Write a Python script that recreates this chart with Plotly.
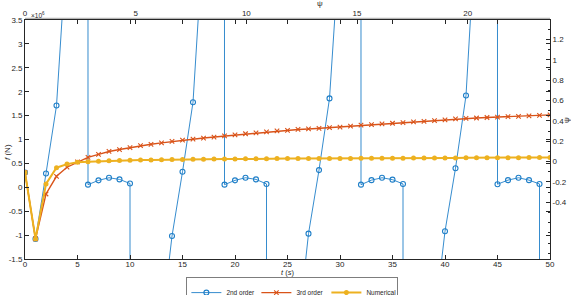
import plotly.graph_objects as go

t = list(range(0, 51))

second_order = [0.31, -1.08, 0.29, 1.71, 5.15, 1.0e6, 0.055, 0.145, 0.2, 0.165, 0.08,
                -1.0e6, -1.0e6, -2.9, -1.02, 0.325, 1.78, 5.3, 1.0e6,
                0.055, 0.145, 0.2, 0.165, 0.07,
                -1.0e6, -1.0e6, -3.0, -0.97, 0.36, 1.86, 5.2, 1.0e6,
                0.055, 0.15, 0.2, 0.16, 0.07,
                -1.0e6, -1.0e6, -2.8, -0.92, 0.40, 1.92, 5.7, 1.0e6,
                0.065, 0.15, 0.2, 0.15, 0.07, -1.0e6]

third_order = [0.31, -1.08, -0.14, 0.23, 0.42, 0.53, 0.625, 0.69, 0.75, 0.79, 0.83,
               0.87, 0.90, 0.93, 0.96, 0.985, 1.006, 1.03, 1.05, 1.075, 1.095,
               1.12, 1.14, 1.16, 1.18, 1.19, 1.21, 1.22, 1.235, 1.25, 1.26,
               1.28, 1.30, 1.31, 1.325, 1.34, 1.355, 1.37, 1.38, 1.395, 1.41,
               1.43, 1.44, 1.45, 1.46, 1.47, 1.48, 1.485, 1.495, 1.505, 1.515]

numerical = [0.31, -1.08, 0.07, 0.41, 0.485, 0.525, 0.535, 0.545, 0.555, 0.56, 0.565,
             0.57, 0.57, 0.575, 0.58, 0.58, 0.585, 0.585, 0.59, 0.59, 0.59,
             0.595, 0.595, 0.595, 0.60, 0.60, 0.60, 0.60, 0.605, 0.605, 0.605,
             0.605, 0.61, 0.61, 0.61, 0.61, 0.61, 0.615, 0.615, 0.615, 0.615,
             0.615, 0.62, 0.62, 0.62, 0.62, 0.62, 0.62, 0.625, 0.625, 0.625]

left_ticks = [-1.5, -1, -0.5, 0, 0.5, 1, 1.5, 2, 2.5, 3, 3.5]
left_ticktext = ["-1.5", "-1", "-0.5", "0", "0.5", "1", "1.5", "2", "2.5", "3", "3.5"]
bottom_ticks = [0, 5, 10, 15, 20, 25, 30, 35, 40, 45, 50]
top_ticks = [0, 5, 10, 15, 20]
right_ticks = [-0.4, -0.2, 0, 0.2, 0.4, 0.6, 0.8, 1, 1.2]
right_ticktext = ["-0.4", "-0.2", "0", "0.2", "0.4", "0.6", "0.8", "1", "1.2"]

BLUE = "#1f7fc8"
RED = "#D95319"
YELLOW = "#EDB120"
TXT = "#262626"
AX = "#262626"
FONT = "Liberation Sans, Arial, sans-serif"

fig = go.Figure()
fig.add_trace(go.Scatter(x=t, y=second_order, mode="lines+markers", name="2nd order",
                         line=dict(color=BLUE, width=0.9),
                         marker=dict(symbol="circle-open", size=5, color=BLUE, line=dict(width=1.1))))
fig.add_trace(go.Scatter(x=t, y=third_order, mode="lines+markers", name="3rd order",
                         line=dict(color=RED, width=1.4),
                         marker=dict(symbol="x-thin-open", size=4.5, color=RED, line=dict(width=1.1, color=RED))))
fig.add_trace(go.Scatter(x=t, y=numerical, mode="lines+markers", name="Numerical",
                         line=dict(color=YELLOW, width=2),
                         marker=dict(symbol="circle", size=5, color=YELLOW)))
# carrier trace for secondary axes (invisible)
fig.add_trace(go.Scatter(x=[1], y=[0.5], xaxis="x2", yaxis="y2", mode="markers",
                         marker=dict(opacity=0), showlegend=False, hoverinfo="skip"))

tickfont = dict(family=FONT, size=8, color=TXT)

fig.update_layout(
    width=571, height=295, autosize=False,
    margin=dict(l=25, r=21, t=20, b=36, autoexpand=False),
    paper_bgcolor="white", plot_bgcolor="white",
    showlegend=True,
    legend=dict(orientation="h", x=0.511, y=(295 - 277.5) / 295.0, xref="container", yref="container",
                xanchor="center", yanchor="top",
                font=dict(family=FONT, size=6.5, color=TXT),
                bordercolor="#262626", borderwidth=0.6, bgcolor="white",
                itemwidth=30, tracegroupgap=0, entrywidth=25, entrywidthmode="pixels"),
    xaxis=dict(range=[0, 50], tickvals=bottom_ticks, ticks="inside", ticklen=4,
               tickcolor=AX, showline=True, linecolor=AX, linewidth=0.8, automargin=False,
               mirror="ticks", showgrid=False, zeroline=False, tickfont=tickfont,
               ticklabelstandoff=-3),
    yaxis=dict(range=[-1.5, 3.5], tickvals=left_ticks, ticktext=left_ticktext,
               ticks="inside", ticklen=4, tickcolor=AX, showline=True, linecolor=AX, automargin=False,
               linewidth=0.8, mirror="ticks", showgrid=False, zeroline=False, tickfont=tickfont),
    xaxis2=dict(range=[0, 23.72], tickvals=top_ticks, overlaying="x", side="top", anchor="y",
                ticks="inside", ticklen=4, tickcolor=AX, showline=True, linecolor=AX, automargin=False,
                linewidth=0.8, showgrid=False, zeroline=False, tickfont=tickfont),
    yaxis2=dict(range=[-0.956, 1.39], tickvals=right_ticks, ticktext=right_ticktext,
                overlaying="y", side="right", anchor="x", ticks="inside", ticklen=4,
                tickcolor=AX, showline=True, linecolor=AX, linewidth=0.8, automargin=False,
                showgrid=False, zeroline=False, tickfont=tickfont,
                minor=dict(dtick=0.1, ticks="inside", ticklen=2, tickcolor=AX)),
)

def px(xp):
    return (xp - 25) / 525.0

def py(yp):
    return (259 - yp) / 239.0

ann = [
    dict(text="<i>t</i> (<i>s</i>)", x=px(287), y=py(272.5), showarrow=False,
         font=dict(family=FONT, size=7.5, color=TXT)),
    dict(text="<i>f</i> (N)", x=px(7), y=py(152), textangle=-90, showarrow=False,
         font=dict(family=FONT, size=8, color=TXT)),
    dict(text="ψ", x=px(320), y=py(3), showarrow=False,
         font=dict(family=FONT, size=8, color=TXT)),
    dict(text="ψ", x=px(566), y=py(120), textangle=-90, showarrow=False,
         font=dict(family=FONT, size=8, color=TXT)),
    dict(text="×10<sup>6</sup>", x=px(38), y=py(15), showarrow=False,
         font=dict(family=FONT, size=6.5, color=TXT)),
]
for a in ann:
    a.update(xref="paper", yref="paper", xanchor="center", yanchor="middle")
fig.update_layout(annotations=ann)

fig.add_shape(type="line", xref="paper", yref="paper", x0=0, x1=1,
              y0=py(18.3), y1=py(18.3), line=dict(color="#8a8a8a", width=0.8))

fig.write_html("out.html")
